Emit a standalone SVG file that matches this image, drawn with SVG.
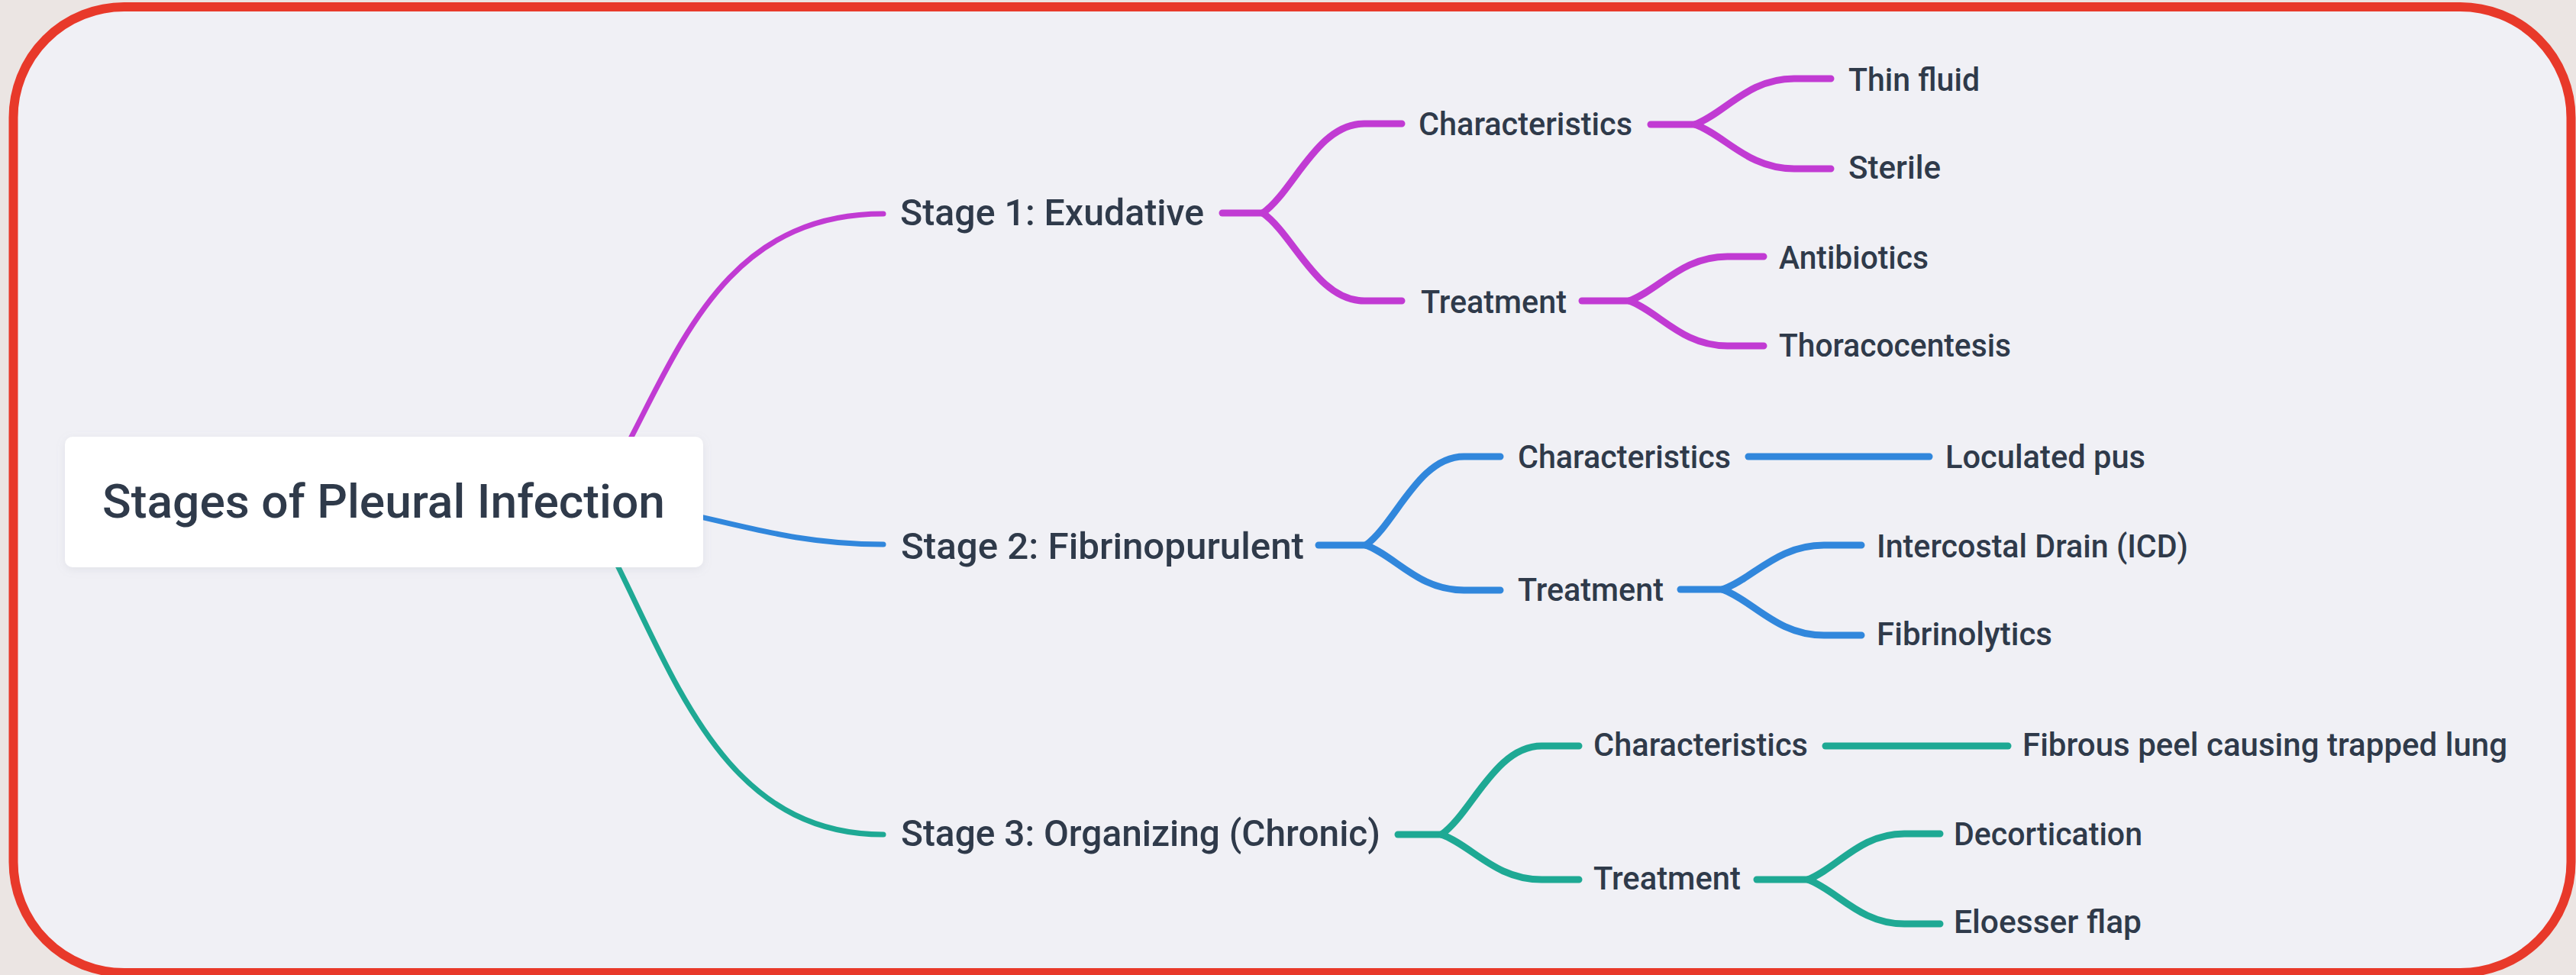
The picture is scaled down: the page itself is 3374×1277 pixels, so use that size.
<svg xmlns="http://www.w3.org/2000/svg" width="3374" height="1277" viewBox="0 0 3374 1277">
  <defs>
    <filter id="soft" x="-10%" y="-20%" width="120%" height="140%">
      <feDropShadow dx="0" dy="3" stdDeviation="6" flood-color="#8a94a6" flood-opacity="0.15"/>
    </filter>
    <style>
      .lbl { font-family: Roboto, "Liberation Sans", sans-serif; font-weight: 500; fill: #2f3a4a; }
      .root { font-size: 62px; }
      .stage { font-size: 49px; }
      .leaf { font-size: 42px; }
      .link { fill: none; stroke-linecap: round; stroke-linejoin: round; }
      .lv1 { stroke-width: 7; }
      .lv2 { stroke-width: 9; }
      .s1 { stroke: #c13bd3; }
      .s2 { stroke: #3187dc; }
      .s3 { stroke: #1ea994; }
    </style>
  </defs>

  <!-- page backdrop and framed panel -->
  <rect x="0" y="0" width="3374" height="1277" fill="#ebe5e3"/>
  <rect x="17.5" y="9" width="3350" height="1265" rx="145" ry="145" fill="#f0f0f5" stroke="#e8392a" stroke-width="12"/>

  <!-- connectors -->
  <g id="connectors">
    <!-- root to stages -->
    <path class="link lv1 s1" d="M790 640 C880 490, 930 280, 1157 280"/>
    <path class="link lv1 s2" d="M700 650 C900 650, 980 713, 1157 713"/>
    <path class="link lv1 s3" d="M760 650 C870 830, 920 1093, 1157 1093"/>

    <!-- stage 1 -->
    <path class="link lv2 s1" d="M1601 279 L1654 279"/>
    <path class="link lv2 s1" d="M1654 279 C1695 250, 1725 162, 1787 162 L1836 162"/>
    <path class="link lv2 s1" d="M1654 279 C1695 308, 1725 394, 1787 394 L1836 394"/>
    <path class="link lv2 s1" d="M2162 163 L2220 163"/>
    <path class="link lv2 s1" d="M2220 163 C2260 148, 2289 103, 2350 103 L2398 103"/>
    <path class="link lv2 s1" d="M2220 163 C2260 177.5, 2289 221, 2350 221 L2398 221"/>
    <path class="link lv2 s1" d="M2072 394 L2134 394"/>
    <path class="link lv2 s1" d="M2134 394 C2173.6 379.5, 2202.6 336, 2262.5 336 L2310 336"/>
    <path class="link lv2 s1" d="M2134 394 C2173.6 408.8, 2202.6 453, 2262.5 453 L2310 453"/>

    <!-- stage 2 -->
    <path class="link lv2 s2" d="M1727 714 L1789 714"/>
    <path class="link lv2 s2" d="M1789 714 C1828.6 685, 1857.6 598, 1917.5 598 L1965 598"/>
    <path class="link lv2 s2" d="M1789 714 C1828.6 728.8, 1857.6 773, 1917.5 773 L1965 773"/>
    <path class="link lv2 s2" d="M2290 598 L2527 598"/>
    <path class="link lv2 s2" d="M2201 772 L2256 772"/>
    <path class="link lv2 s2" d="M2256 772 C2297 757.5, 2327 714, 2389 714 L2438 714"/>
    <path class="link lv2 s2" d="M2256 772 C2297 787, 2327 832, 2389 832 L2438 832"/>

    <!-- stage 3 -->
    <path class="link lv2 s3" d="M1831 1093 L1888 1093"/>
    <path class="link lv2 s3" d="M1888 1093 C1928.5 1064, 1958.2 977, 2019.4 977 L2068 977"/>
    <path class="link lv2 s3" d="M1888 1093 C1928.5 1107.8, 1958.2 1152, 2019.4 1152 L2068 1152"/>
    <path class="link lv2 s3" d="M2391 977 L2630 977"/>
    <path class="link lv2 s3" d="M2301 1152 L2368 1152"/>
    <path class="link lv2 s3" d="M2368 1152 C2406.9 1137, 2435.5 1092, 2494.3 1092 L2541 1092"/>
    <path class="link lv2 s3" d="M2368 1152 C2406.9 1166.5, 2435.5 1210, 2494.3 1210 L2541 1210"/>
  </g>

  <!-- root -->
  <g id="root">
    <rect x="85" y="572" width="836" height="171" rx="10" ry="10" fill="#ffffff" filter="url(#soft)"/>
    <text class="lbl root" x="134" y="678" textLength="737" lengthAdjust="spacingAndGlyphs">Stages of Pleural Infection</text>
  </g>

  <!-- stage 1 -->
  <g id="stage1"><text class="lbl stage" x="1179" y="295" textLength="398" lengthAdjust="spacingAndGlyphs">Stage 1: Exudative</text></g>
  <g id="s1-characteristics"><text class="lbl leaf" x="1858" y="177" textLength="280" lengthAdjust="spacingAndGlyphs">Characteristics</text></g>
  <g id="s1-thin-fluid"><text class="lbl leaf" x="2421" y="119" textLength="172" lengthAdjust="spacingAndGlyphs">Thin fluid</text></g>
  <g id="s1-sterile"><text class="lbl leaf" x="2421" y="234" textLength="121" lengthAdjust="spacingAndGlyphs">Sterile</text></g>
  <g id="s1-treatment"><text class="lbl leaf" x="1861" y="410" textLength="191" lengthAdjust="spacingAndGlyphs">Treatment</text></g>
  <g id="s1-antibiotics"><text class="lbl leaf" x="2330" y="352" textLength="196" lengthAdjust="spacingAndGlyphs">Antibiotics</text></g>
  <g id="s1-thoracocentesis"><text class="lbl leaf" x="2330" y="467" textLength="304" lengthAdjust="spacingAndGlyphs">Thoracocentesis</text></g>

  <!-- stage 2 -->
  <g id="stage2"><text class="lbl stage" x="1180" y="732" textLength="528" lengthAdjust="spacingAndGlyphs">Stage 2: Fibrinopurulent</text></g>
  <g id="s2-characteristics"><text class="lbl leaf" x="1988" y="613" textLength="279" lengthAdjust="spacingAndGlyphs">Characteristics</text></g>
  <g id="s2-loculated-pus"><text class="lbl leaf" x="2548" y="613" textLength="262" lengthAdjust="spacingAndGlyphs">Loculated pus</text></g>
  <g id="s2-treatment"><text class="lbl leaf" x="1988" y="787" textLength="191" lengthAdjust="spacingAndGlyphs">Treatment</text></g>
  <g id="s2-icd"><text class="lbl leaf" x="2458" y="730" textLength="408" lengthAdjust="spacingAndGlyphs">Intercostal Drain (ICD)</text></g>
  <g id="s2-fibrinolytics"><text class="lbl leaf" x="2458" y="845" textLength="230" lengthAdjust="spacingAndGlyphs">Fibrinolytics</text></g>

  <!-- stage 3 -->
  <g id="stage3"><text class="lbl stage" x="1180" y="1108" textLength="628" lengthAdjust="spacingAndGlyphs">Stage 3: Organizing (Chronic)</text></g>
  <g id="s3-characteristics"><text class="lbl leaf" x="2087" y="990" textLength="281" lengthAdjust="spacingAndGlyphs">Characteristics</text></g>
  <g id="s3-fibrous-peel"><text class="lbl leaf" x="2649" y="990" textLength="635" lengthAdjust="spacingAndGlyphs">Fibrous peel causing trapped lung</text></g>
  <g id="s3-treatment"><text class="lbl leaf" x="2087" y="1165" textLength="193" lengthAdjust="spacingAndGlyphs">Treatment</text></g>
  <g id="s3-decortication"><text class="lbl leaf" x="2559" y="1107" textLength="247" lengthAdjust="spacingAndGlyphs">Decortication</text></g>
  <g id="s3-eloesser-flap"><text class="lbl leaf" x="2559" y="1222" textLength="246" lengthAdjust="spacingAndGlyphs">Eloesser flap</text></g>
</svg>
